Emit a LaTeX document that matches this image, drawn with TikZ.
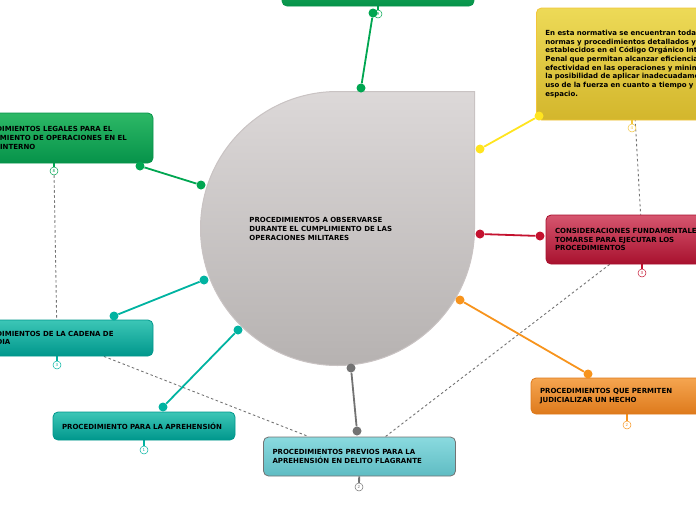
\documentclass[tikz,border=0pt]{standalone}
\usepackage{fontspec}
\setmainfont{DejaVu Sans}
\usetikzlibrary{backgrounds}

\definecolor{grnT}{HTML}{2DB866}
\definecolor{grnB}{HTML}{06934A}
\definecolor{grnL}{HTML}{00A651}
\definecolor{ylwT}{HTML}{EDDA57}
\definecolor{ylwB}{HTML}{D3B62C}
\definecolor{ylwE}{HTML}{F2C53A}
\definecolor{ylwL}{HTML}{FFE41F}
\definecolor{redT}{HTML}{D6566F}
\definecolor{redB}{HTML}{A8112E}
\definecolor{redL}{HTML}{C4122F}
\definecolor{orgT}{HTML}{F5A550}
\definecolor{orgB}{HTML}{DE7A1C}
\definecolor{orgL}{HTML}{F7941D}
\definecolor{tealT}{HTML}{3CC6B6}
\definecolor{tealB}{HTML}{00978C}
\definecolor{tealL}{HTML}{00B3A1}
\definecolor{aquaT}{HTML}{8ADADF}
\definecolor{aquaB}{HTML}{5FBCC3}
\definecolor{greyL}{HTML}{737373}
\definecolor{hubT}{HTML}{DCD8D8}
\definecolor{hubB}{HTML}{B6B2B1}
\definecolor{hubE}{HTML}{C9C3C3}

\begin{document}
\begin{tikzpicture}[x=1pt, y=-1pt,
            % ----- Styles -----
                box/.style={
                    rounded corners=5pt, line width=0.8pt,
                    text width=174pt, inner xsep=9pt, inner ysep=0pt,
                    align=left, text=black,
                    font=\bfseries\fontsize{7}{8.7}\selectfont
                },
                colbox/.style 2 args={box, top color=#1, bottom color=#2, draw=#2},
                dot/.style={circle, fill=#1, inner sep=0pt, minimum size=9pt},
                link/.style={draw=#1, line width=1.8pt},
                badge/.style={
                    circle, draw=#1, fill=white, line width=0.5pt,
                    inner sep=0pt, minimum size=8pt, text=#1,
                    font=\fontsize{4}{4}\selectfont
                },
                rel/.style={draw=greyL, line width=0.9pt, dash pattern=on 2.5pt off 2.5pt}
            ]

                \useasboundingbox (0,0) rectangle (696,520);
                \clip (0,0) rectangle (696,520);

% ===================== Zentrum ============================
                \draw[top color=hubT, bottom color=hubB, draw=hubE, line width=1pt]
                    (337.5,91.5) -- (474.5,91.5) -- (474.5,228.5)
                    arc[start angle=0, end angle=270, radius=137] -- cycle;
                \node[box, text width=160pt, anchor=west] (hub) at (240,229)
                    {PROCEDIMIENTOS A OBSERVARSE\\DURANTE EL CUMPLIMIENTO DE LAS\\OPERACIONES MILITARES};

% ===================== Themen (Kaesten) ===================
                \node[colbox={grnT}{grnB}, minimum height=40pt] (pTop) at (378,-14) {};

                \node[colbox={grnT}{grnB}, minimum height=50pt] (legal) at (57,138)
                    {PROCEDIMIENTOS LEGALES PARA EL\\CUMPLIMIENTO DE OPERACIONES EN EL\\ORDEN INTERNO};

                \node[colbox={ylwT}{ylwB}, draw=ylwE, text width=200pt,
                      minimum height=112pt, anchor=west] (normativa) at (536,64)
                    {En esta normativa se encuentran todas las\\
                     normas y procedimientos detallados y\\
                     establecidos en el Código Orgánico Integral\\
                     Penal que permitan alcanzar eficiencia y\\
                     efectividad en las operaciones y minimizar\\
                     la posibilidad de aplicar inadecuadamente el\\
                     uso de la fuerza en cuanto a tiempo y\\
                     espacio.};
                \coordinate (normC) at (632,64);

                \node[colbox={redT}{redB}, minimum height=49pt] (consid) at (642,239.5)
                    {CONSIDERACIONES FUNDAMENTALES A\\TOMARSE PARA EJECUTAR LOS\\PROCEDIMIENTOS};

                \node[colbox={orgT}{orgB}, minimum height=36pt] (judic) at (627,396)
                    {PROCEDIMIENTOS QUE PERMITEN\\JUDICIALIZAR UN HECHO};

                \node[colbox={aquaT}{aquaB}, draw=greyL, minimum height=39pt] (previos) at (359.5,456.5)
                    {PROCEDIMIENTOS PREVIOS PARA LA\\APREHENSIÓN EN DELITO FLAGRANTE};

                \node[colbox={tealT}{tealB}, minimum height=36pt] (cadena) at (57,338)
                    {PROCEDIMIENTOS DE LA CADENA DE\\CUSTODIA};

                \node[colbox={tealT}{tealB}, text width=164pt, minimum height=28pt] (aprehen) at (144,426)
                    {PROCEDIMIENTO PARA LA APREHENSIÓN};

% ===================== Nummern ============================
                \node[badge=grnL]  (b9) at (378,14)  {9};
                \node[badge=grnL]  (b8) at (54,171)  {8};
                \node[badge=ylwE]  (b4) at (632,128) {4};
                \node[badge=redL]  (b3) at (642,273) {3};
                \node[badge=orgL]  (b2) at (627,425) {2};
                \node[badge=greyL] (b6) at (359,487) {2};
                \node[badge=tealL] (b7) at (57,365)  {3};
                \node[badge=tealL] (b1) at (144,450) {1};

% ===================== Ankerpunkte ========================
                \node[dot=grnL]  (h1) at (361,88)  {};
                \node[dot=grnL]  (t1) at (373,13)  {};
                \node[dot=grnL]  (h2) at (201,185) {};
                \node[dot=grnL]  (t2) at (140,166) {};
                \node[dot=ylwL]  (h3) at (480,149) {};
                \node[dot=ylwL]  (t3) at (539,116) {};
                \node[dot=redL]  (h4) at (480,234) {};
                \node[dot=redL]  (t4) at (540,236) {};
                \node[dot=orgL]  (h5) at (460,300) {};
                \node[dot=orgL]  (t5) at (588,374) {};
                \node[dot=greyL] (h6) at (351,368) {};
                \node[dot=greyL] (t6) at (357,431) {};
                \node[dot=tealL] (h7) at (204,280) {};
                \node[dot=tealL] (t7) at (114,316) {};
                \node[dot=tealL] (h8) at (238,330) {};
                \node[dot=tealL] (t8) at (163,407) {};

% ===================== Verbindungen =======================
                \begin{pgfonlayer}{background}
                    \draw[rel] (b8) -- (cadena);
                    \draw[rel] (normC) -- (consid);
                    \draw[rel] (consid) -- (previos);
                    \draw[rel] (cadena) -- (previos);

                    \draw[link=grnL] (h1) -- (t1);
                    \draw[link=grnL] (h2) -- (t2);
                    \draw[link=ylwL] (h3) -- (t3);
                    \draw[link=redL] (h4) -- (t4);
                    \draw[link=orgL] (h5) -- (t5);
                    \draw[link=greyL] (h6) -- (t6);
                    \draw[link=tealL] (h7) -- (t7);
                    \draw[link=tealL] (h8) -- (t8);

                    % Stummel zu den Nummern
                    \draw[link=grnL]  (pTop) -- (b9);
                    \draw[link=grnL]  (b8 |- legal) -- (b8);
                    \draw[link=ylwE]  (normC) -- (b4);
                    \draw[link=redL]  (consid) -- (b3);
                    \draw[link=orgL]  (judic) -- (b2);
                    \draw[link=greyL] (previos) -- (b6);
                    \draw[link=tealL] (cadena) -- (b7);
                    \draw[link=tealL] (aprehen) -- (b1);
                \end{pgfonlayer}

\end{tikzpicture}
\end{document}
